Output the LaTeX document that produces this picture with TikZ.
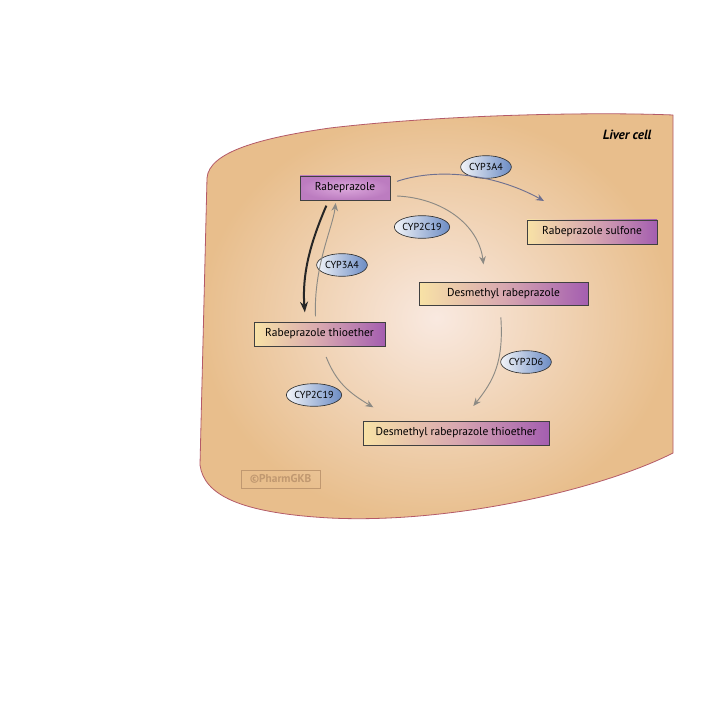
\documentclass[tikz,border=0pt]{standalone}
\usepackage{fontspec}
\setmainfont{PT Sans}
\usetikzlibrary{shapes.geometric,arrows.meta}
\definecolor{cellrim}{HTML}{B45A68}
\definecolor{cellout}{HTML}{E8BE8C}
\definecolor{cellin}{HTML}{F9E9E0}
\definecolor{boxl}{HTML}{F8E2A6}
\definecolor{boxm}{HTML}{D8A8B0}
\definecolor{boxr}{HTML}{A45EB0}
\definecolor{rabin}{HTML}{DCA8DC}
\definecolor{rabout}{HTML}{BC7CC0}
\definecolor{enzl}{HTML}{F2F4F8}
\definecolor{enzr}{HTML}{6C8CC4}
\definecolor{arrgray}{HTML}{8C8A84}
\definecolor{arrblue}{HTML}{6E7090}
\definecolor{wmcol}{HTML}{C09870}
\tikzset{
  metab/.style={draw=black!75, line width=0.5pt, rectangle, minimum height=18pt, inner sep=0pt,
    left color=boxl, right color=boxr, middle color=boxm, font=\fontsize{8.6}{10}\selectfont},
  enz/.style={draw=black!80, line width=0.5pt, ellipse, minimum width=38pt, minimum height=17pt, inner sep=0pt,
    left color=enzl, right color=enzr, font=\fontsize{7.6}{9}\selectfont},
  conv/.style={draw=arrgray, line width=0.7pt, -{Stealth[length=6pt,width=5pt]}},
}
\begin{document}
\begin{tikzpicture}[x=0.75pt,y=-0.75pt]
\useasboundingbox (0,0) rectangle (720,720);
\fill[white] (0,0) rectangle (720,720);
% cell
\shade[inner color=cellin, outer color=cellout, draw=cellrim, line width=0.6pt]
  (673,115) -- (673,453) .. controls (600,490) and (450,524) .. (330,518)
  .. controls (240,513) and (204,495) .. (200,465) -- (207,178)
  .. controls (209,152) and (260,138) .. (330,128)
  .. controls (450,114) and (600,112) .. (673,115);
\node[anchor=east, font=\bfseries\itshape\fontsize{10}{12}\selectfont] (lc) at (656,135) {Liver cell};
% watermark
\node[draw=wmcol, line width=0.7pt, minimum width=59.25pt, minimum height=13.5pt, inner sep=0pt,
  text=wmcol, font=\bfseries\fontsize{8.5}{10}\selectfont] (wm) at (280.5,479) {©PharmGKB};
% metabolites
\node[draw=black!75, line width=0.5pt, minimum width=67.5pt, minimum height=18pt, inner sep=0pt,
  font=\fontsize{8.6}{10}\selectfont, inner color=rabin, outer color=rabout] (rab) at (345,188) {Rabeprazole};
\node[metab, minimum width=97.5pt] (sulf) at (592,232) {Rabeprazole sulfone};
\node[metab, minimum width=126.75pt, minimum height=17.25pt] (dr) at (503.5,293.5) {Desmethyl rabeprazole};
\node[metab, minimum width=98.25pt] (thio) at (319.5,334) {Rabeprazole thioether};
\node[metab, minimum width=139.5pt] (drt) at (456,433) {Desmethyl rabeprazole thioether};
% enzymes
\node[enz] (e1) at (486,167) {CYP3A4};
\node[enz] (e2) at (422,227) {CYP2C19};
\node[enz] (e3) at (342,265) {CYP3A4};
\node[enz] (e4) at (526,362) {CYP2D6};
\node[enz] (e5) at (314,395) {CYP2C19};
% connectors
\draw[conv, draw=arrblue] ([xshift=5pt,yshift=5pt]rab.east) .. controls +(45,-15) and +(-45,-25) .. ([xshift=13pt,yshift=14pt]sulf.north west);
\draw[conv] ([xshift=5pt,yshift=-6pt]rab.east) .. controls +(45,2) and +(-5,-40) .. ([xshift=-15pt,yshift=13pt]dr.north);
\draw[line width=1.5pt, draw=black!85, -{Stealth[length=8pt,width=6pt]}] ([xshift=-14pt,yshift=-4pt]rab.south) .. controls +(-15,35) and +(-3,-40) .. ([xshift=-11pt,yshift=7pt]thio.north);
\draw[conv] ([xshift=-3pt,yshift=4pt]thio.north) .. controls +(-2,-50) and +(-3,25) .. ([xshift=-7pt,yshift=-2pt]rab.south);
\draw[conv] ([xshift=5pt,yshift=-8pt]thio.south) .. controls +(10,25) and +(-25,-15) .. ([xshift=8pt,yshift=10pt]drt.north west);
\draw[conv] ([xshift=-2pt,yshift=-9pt]dr.south) .. controls +(3,45) and +(20,-25) .. ([xshift=13pt,yshift=11pt]drt.north);
\end{tikzpicture}
\end{document}
